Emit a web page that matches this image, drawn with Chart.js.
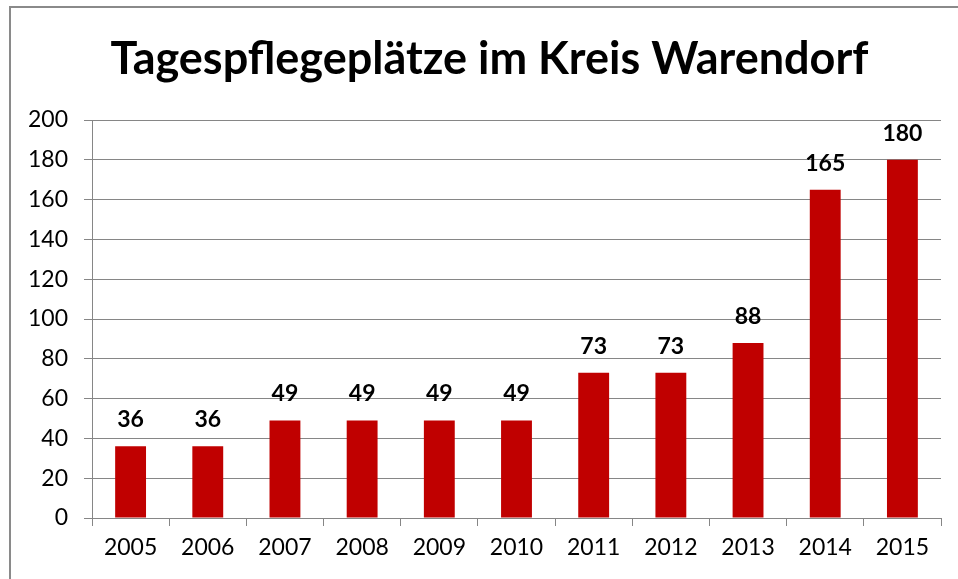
<!DOCTYPE html>
<html>
<head>
<meta charset="utf-8">
<script src="https://cdn.jsdelivr.net/npm/chart.js@4/dist/chart.umd.min.js"></script>
<style>
  html, body { margin: 0; padding: 0; background: #fff; }
  #wrap { position: relative; width: 958px; height: 579px; }
  #frame { position: absolute; left: 9px; top: 6px; right: 0; bottom: 0; border-left: 2px solid #8a8a8a; border-top: 2px solid #8a8a8a; pointer-events: none; }
</style>
</head>
<body>
<div id="wrap">
  <canvas id="chart" width="958" height="579"></canvas>
  <div id="frame"></div>
</div>
<script>
const years = ['2005', '2006', '2007', '2008', '2009', '2010', '2011', '2012', '2013', '2014', '2015'];
const places = [36, 36, 49, 49, 49, 49, 73, 73, 88, 165, 180];
const yTicks = [0, 20, 40, 60, 80, 100, 120, 140, 160, 180, 200];

const FONT = 'Lato, "Open Sans", sans-serif';
const gridGrey = '#868686';

// draw the value above every bar
const valueLabels = {
  id: 'valueLabels',
  afterDatasetsDraw(chart) {
    const ctx = chart.ctx;
    const meta = chart.getDatasetMeta(0);
    ctx.save();
    ctx.font = 'bold 23px ' + FONT;
    ctx.fillStyle = '#000';
    ctx.textAlign = 'center';
    ctx.textBaseline = 'alphabetic';
    meta.data.forEach((bar, i) => {
      ctx.fillText(String(places[i]), bar.x, bar.y - 19);
    });
    ctx.restore();
  }
};

new Chart(document.getElementById('chart'), {
  type: 'bar',
  data: {
    labels: years,
    datasets: [{
      data: places,
      backgroundColor: '#c00000',
      barPercentage: 0.4,
      categoryPercentage: 1
    }]
  },
  options: {
    responsive: false,
    animation: false,
    layout: { padding: { left: 24, right: 3, top: 0, bottom: 0 } },
    plugins: {
      legend: { display: false },
      tooltip: { enabled: false },
      title: {
        display: true,
        text: 'Tagespflegeplätze im Kreis Warendorf',
        color: '#000',
        font: { family: FONT, size: 45, weight: 'bold', lineHeight: 1.2 },
        padding: { top: 32, bottom: 34 }
      }
    },
    scales: {
      x: {
        grid: { offset: true, drawOnChartArea: false, drawTicks: true, tickLength: 8, color: gridGrey, lineWidth: 1 },
        border: { color: gridGrey, width: 1 },
        ticks: { color: '#000', font: { family: FONT, size: 23 }, padding: 8 },
        afterFit(s) { s.height = 61; }
      },
      y: {
        min: 0,
        max: 200,
        afterBuildTicks(s) { s.ticks = yTicks.map(v => ({ value: v })); },
        grid: { color: gridGrey, lineWidth: 1, tickLength: 8 },
        border: { color: gridGrey, width: 1 },
        ticks: { color: '#000', font: { family: FONT, size: 23 }, padding: 16 },
        afterFit(s) { s.width = 68; }
      },
      // empty spacer on the right so the title centres like the original
      spacer: {
        position: 'right',
        grid: { display: false },
        border: { display: false },
        ticks: { display: false },
        afterFit(s) { s.width = 14; }
      }
    }
  },
  plugins: [valueLabels]
});
</script>
</body>
</html>
